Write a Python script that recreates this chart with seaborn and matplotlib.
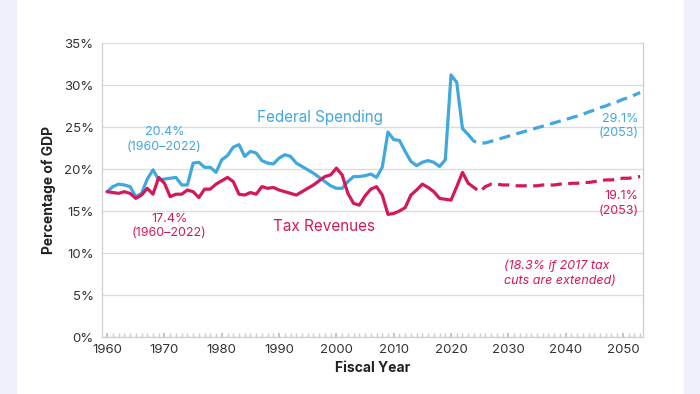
import numpy as np
import pandas as pd
import matplotlib.pyplot as plt
import seaborn as sns
from matplotlib.patches import Rectangle
from matplotlib.ticker import MultipleLocator, FuncFormatter

# historical, fiscal years 1960-2023 (percent of GDP)
hist_years = list(range(1960, 2024))
spending_hist = [
    17.3, 17.9, 18.2, 18.1, 17.9, 16.7, 17.1, 18.8, 19.9, 18.7,
    18.8, 18.9, 19.0, 18.1, 18.1, 20.7, 20.8, 20.2, 20.2, 19.6,
    21.1, 21.6, 22.6, 22.9, 21.5, 22.1, 21.9, 21.0, 20.7, 20.6,
    21.3, 21.7, 21.5, 20.7, 20.3, 19.9, 19.5, 19.0, 18.5, 18.0,
    17.7, 17.7, 18.5, 19.1, 19.1, 19.2, 19.4, 19.0, 20.2, 24.4,
    23.5, 23.4, 22.1, 20.9, 20.4, 20.8, 21.0, 20.8, 20.3, 21.1,
    31.2, 30.3, 24.8, 24.1,
]
revenue_hist = [
    17.3, 17.2, 17.1, 17.3, 17.1, 16.5, 16.9, 17.7, 17.0, 19.0,
    18.3, 16.7, 17.0, 17.0, 17.5, 17.3, 16.6, 17.6, 17.6, 18.2,
    18.6, 19.0, 18.5, 17.0, 16.9, 17.2, 17.0, 17.9, 17.7, 17.8,
    17.5, 17.3, 17.1, 16.9, 17.3, 17.7, 18.1, 18.6, 19.1, 19.3,
    20.1, 19.3, 17.1, 15.9, 15.7, 16.8, 17.6, 17.9, 16.9, 14.6,
    14.7, 15.0, 15.4, 16.9, 17.5, 18.2, 17.8, 17.3, 16.5, 16.4,
    16.3, 17.9, 19.6, 18.3,
]

# projections 2023-2053
proj_years = list(range(2023, 2054))
spending_proj = [
    24.1, 23.3, 23.1, 23.1, 23.3, 23.5, 23.7, 23.9, 24.1, 24.3,
    24.5, 24.7, 24.9, 25.1, 25.3, 25.5, 25.7, 25.9, 26.1, 26.3,
    26.5, 26.8, 27.0, 27.3, 27.5, 27.8, 28.0, 28.3, 28.5, 28.8,
    29.1,
]
revenue_proj = [
    18.3, 17.8, 17.3, 17.9, 18.2, 18.2, 18.1, 18.1, 18.0, 18.0,
    18.0, 18.0, 18.0, 18.1, 18.1, 18.1, 18.2, 18.2, 18.3, 18.3,
    18.4, 18.4, 18.5, 18.6, 18.7, 18.7, 18.8, 18.9, 18.9, 19.0,
    19.1,
]

BLUE = "#40a8de"
RED = "#d3185c"

sns.set_theme(style="white")
plt.rcParams['font.family'] = ['Inter', 'DejaVu Sans']

hist = pd.DataFrame({"year": hist_years, "spend": spending_hist, "rev": revenue_hist})
proj = pd.DataFrame({"year": proj_years, "spend": spending_proj, "rev": revenue_proj})

fig = plt.figure(figsize=(7, 3.94), dpi=100)
fig.patch.set_facecolor("white")
fig.add_artist(Rectangle((0, 0), 16 / 700, 1, transform=fig.transFigure,
                         color="#eef0fb", zorder=0))
fig.add_artist(Rectangle((684 / 700, 0), 16 / 700, 1, transform=fig.transFigure,
                         color="#eef0fb", zorder=0))

ax = fig.add_axes([102 / 700, 1 - 337 / 394, 541 / 700, 294 / 394])

sns.lineplot(data=hist, x="year", y="spend", color=BLUE, lw=2.3, ax=ax)
sns.lineplot(data=hist, x="year", y="rev", color=RED, lw=2.3, ax=ax)
sns.lineplot(data=proj, x="year", y="spend", color=BLUE, lw=2.3, ax=ax,
             linestyle=(0, (3.5, 2)))
sns.lineplot(data=proj, x="year", y="rev", color=RED, lw=2.3, ax=ax,
             linestyle=(0, (3.5, 2)))

ax.set_xlim(1959.1, 2053.5)
ax.set_ylim(0, 35)
ax.yaxis.set_major_locator(MultipleLocator(5))
ax.yaxis.set_major_formatter(FuncFormatter(lambda v, p: f"{v:.0f}%"))
ax.set_xticks(range(1960, 2051, 10))
ax.xaxis.set_minor_locator(MultipleLocator(1))
ax.grid(axis="y", color="#dcdcdc", lw=0.9)
ax.set_axisbelow(True)
for s in ["left", "right", "bottom"]:
    ax.spines[s].set_color("#cfcfcf")
    ax.spines[s].set_linewidth(0.9)
ax.spines["top"].set_visible(False)
ax.tick_params(axis="y", length=0, labelsize=9.5, labelcolor="#333333", pad=6)
ax.tick_params(axis="x", which="major", direction="in", length=3, color="#bbbbbb",
               labelsize=9.5, labelcolor="#333333", pad=5, bottom=True)
ax.tick_params(axis="x", which="minor", direction="in", length=3, color="#cccccc",
               bottom=True)

ax.set_xlabel("Fiscal Year", fontsize=10, fontweight="bold", color="#222222", labelpad=4)
ax.set_ylabel("Percentage of GDP", fontsize=10, fontweight="bold", color="#222222",
              labelpad=6)

ax.text(1997.2, 26.1, "Federal Spending", color=BLUE, fontsize=11, ha="center", va="center")
ax.text(1997.8, 13.2, "Tax Revenues", color=RED, fontsize=11, ha="center", va="center")
ax.text(1970.0, 23.5, "20.4%\n(1960–2022)", color=BLUE, fontsize=9, ha="center",
        va="center", linespacing=1.25)
ax.text(1970.8, 13.2, "17.4%\n(1960–2022)", color=RED, fontsize=9, ha="center",
        va="center", linespacing=1.25)
ax.text(2052.7, 25.1, "29.1%\n(2053)", color=BLUE, fontsize=9, ha="right",
        va="center", linespacing=1.25)
ax.text(2052.7, 15.9, "19.1%\n(2053)", color=RED, fontsize=9, ha="right",
        va="center", linespacing=1.25)
ax.text(2029.3, 7.6, "(18.3% if 2017 tax\ncuts are extended)", color=RED, fontsize=9,
        style="italic", ha="left", va="center", linespacing=1.3)

fig.savefig("out.png", dpi=100)
